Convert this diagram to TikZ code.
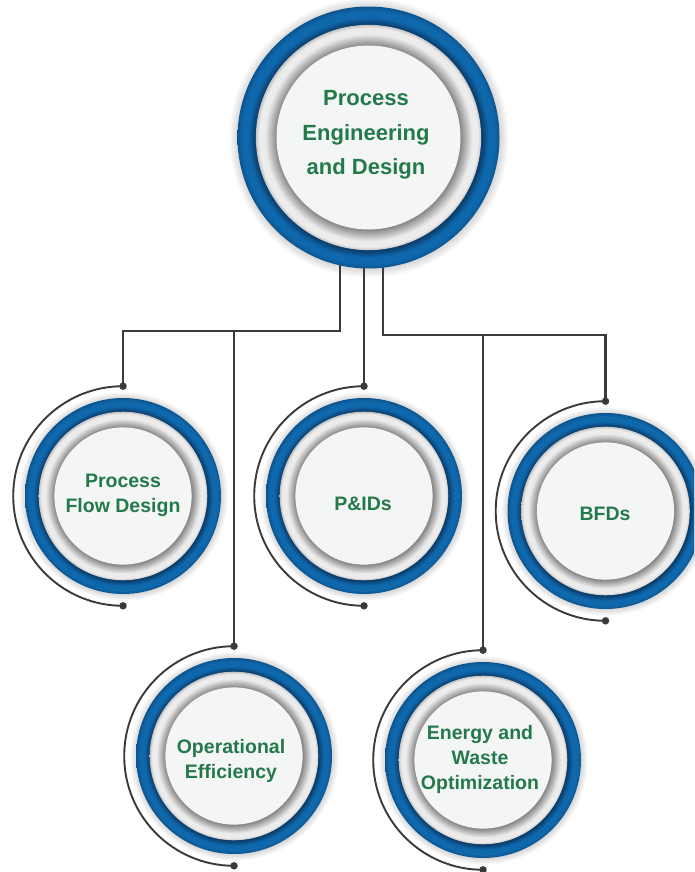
\documentclass[tikz,border=0pt]{standalone}
\usepackage{fontspec}
\setmainfont{Liberation Sans}
\usetikzlibrary{calc}
\definecolor{bluedark}{HTML}{0A3A66}
\definecolor{bluemid}{HTML}{0F67AC}
\definecolor{blueedge}{HTML}{0C548E}
\definecolor{graydark}{HTML}{858585}
\definecolor{graylight}{HTML}{ECECEC}
\definecolor{grayouter}{HTML}{C4C4C4}
\definecolor{halogray}{HTML}{D6D6D6}
\definecolor{corefill}{HTML}{F4F6F5}
\definecolor{txtgreen}{HTML}{24794A}
\definecolor{linec}{HTML}{3A3A3A}
\pgfdeclareradialshading{blueshade}{\pgfpoint{0bp}{0bp}}{color(0bp)=(bluedark);color(21.5bp)=(bluedark);color(22.9bp)=(bluemid);color(24.1bp)=(bluemid);color(25bp)=(blueedge);color(50bp)=(blueedge)}
\pgfdeclareradialshading{grayshade}{\pgfpoint{0bp}{0bp}}{color(0bp)=(graydark);color(20.35bp)=(graydark);color(23bp)=(graylight);color(24.3bp)=(graylight);color(25bp)=(grayouter);color(50bp)=(grayouter)}
\pgfdeclareradialshading{haloshade}{\pgfpoint{0bp}{0bp}}{color(0bp)=(halogray);color(23.3bp)=(halogray);color(25bp)=(white);color(50bp)=(white)}
\pgfdeclarelayer{halo}
\pgfdeclarelayer{conn}
\pgfsetlayers{halo,conn,main}
\newcommand\ringdisk[3]{%
  \begin{pgfonlayer}{halo}\shade[shading=haloshade] (#1,#2) circle[radius={1.07*#3}];\end{pgfonlayer}
  \shade[shading=blueshade] (#1,#2) circle[radius=#3];
  \shade[shading=grayshade] (#1,#2) circle[radius={0.86*#3}];}
\begin{document}
\begin{tikzpicture}[x=1pt,y=-1pt,
  conn/.style={draw=linec, line width=2.2pt},
  arcline/.style={draw=linec, line width=1.9pt},
  dotc/.style={circle, fill=linec, inner sep=0pt, minimum size=7.5pt},
  core/.style={circle, fill=corefill, inner sep=0pt},
  mainlbl/.style={text=txtgreen, align=center, font=\fontsize{22pt}{34.5pt}\selectfont\bfseries},
  lbl/.style={text=txtgreen, align=center, font=\fontsize{19.5pt}{25pt}\selectfont\bfseries}]
\useasboundingbox (0,0) rectangle (694,872);
\clip (0,0) rectangle (694,872);
\begin{pgfonlayer}{halo}\fill[white] (0,0) rectangle (694,872);\end{pgfonlayer}

% main circle
\ringdisk{368.5}{137.5}{131}
\node[core, minimum size=184pt] (main) at (368.5,137.5) {};
\node[mainlbl] (maint) at (366,135) {Process\\Engineering\\and Design};

% children
\ringdisk{123}{496}{98}
\node[core, minimum size=137.2pt] (pfd) at (123,496) {};
\node[lbl] (pfdt) at (123,495) {Process\\Flow Design};

\ringdisk{364}{496}{98}
\node[core, minimum size=137.2pt] (pid) at (364,496) {};
\node[lbl] (pidt) at (363,504) {P\&IDs};

\ringdisk{605.5}{511}{98}
\node[core, minimum size=137.2pt] (bfd) at (605.5,511) {};
\node[lbl] (bfdt) at (605,514) {BFDs};

\ringdisk{234}{756}{98}
\node[core, minimum size=137.2pt] (ope) at (234,756) {};
\node[lbl] (opet) at (231,761) {Operational\\Efficiency};

\ringdisk{483}{760}{98}
\node[core, minimum size=137.2pt] (ene) at (483,760) {};
\node[lbl] (enet) at (480,759) {Energy and\\Waste\\Optimization};

% arcs and dots
\foreach \n/\cx/\cy in {pfd/123/496, pid/364/496, bfd/605.5/511, ope/234/756, ene/483/760}{
  \node[dotc] (\n top) at (\cx,\cy-109.8) {};
  \node[dotc] (\n bot) at (\cx,\cy+109.8) {};
  \draw[arcline] (\n top.center) arc[start angle=270, end angle=90, radius=109.8];
}

% connectors
\coordinate (lbus) at (340,331);
\coordinate (rbus) at (383,335);
\begin{pgfonlayer}{conn}
  \draw[conn] ([xshift=-28.5pt]main.center) |- (lbus) -| (pfdtop.center);
  \draw[conn] (lbus -| opetop) -- (opetop.center);
  \draw[conn] ([xshift=-4.5pt]main.center) -- (pidtop.center);
  \draw[conn] ([xshift=14.5pt]main.center) |- (rbus) -| (bfdtop.center);
  \draw[conn] (rbus -| enetop) -- (enetop.center);
\end{pgfonlayer}
\end{tikzpicture}
\end{document}
